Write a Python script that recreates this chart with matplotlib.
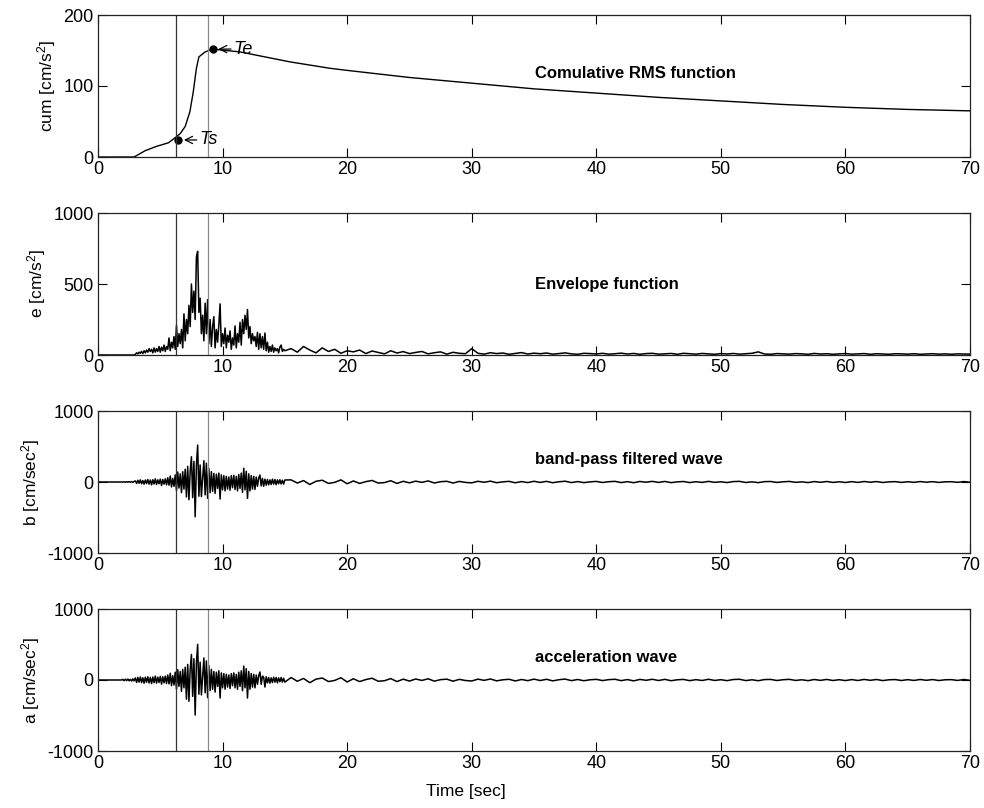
import numpy as np
import matplotlib
matplotlib.use('Agg')
import matplotlib.pyplot as plt

plt.rcParams['font.family'] = ['Liberation Sans', 'DejaVu Sans']
plt.rcParams['mathtext.fontset'] = 'custom'
plt.rcParams['mathtext.rm'] = 'Liberation Sans'
plt.rcParams['mathtext.it'] = 'Liberation Sans:italic'
plt.rcParams['axes.unicode_minus'] = False

# ---- data ----
t_start, t_end = 6.26, 8.86          # vertical marker lines
ts_point = (6.45, 24)
te_point = (9.2, 152)

cum_t = [0, 2.9, 3.8, 4.7, 5.65, 6.26, 6.6, 7.0, 7.38, 7.65, 7.9, 8.1, 8.6, 9.2,
         11.4, 15.4, 18.6, 20, 25, 30, 35, 40, 45, 50, 55, 60, 65, 70]
cum_v = [0, 0, 9, 15, 20, 28, 33, 43, 64, 92, 125, 141, 148, 152,
         148, 134, 125, 122, 112, 104, 96, 90, 84, 79, 74, 70, 67, 65]

# envelope, 0.1 s samples from 3.0 to 15.0 s
env_active = [
    5, 15, 8, 20, 12, 25, 10, 30, 15, 35,
    20, 45, 25, 40, 15, 50, 20, 45, 25, 60,
    20, 55, 30, 70, 25, 60, 40, 120, 30, 90,
    50, 130, 40, 210, 60, 150, 80, 180, 50, 290,
    100, 250, 150, 350, 200, 500, 300, 450, 250, 690,
    730, 300, 400, 150, 280, 100, 365, 150, 390, 80,
    250, 60, 200, 270, 50, 180, 90, 210, 360, 60,
    150, 80, 190, 50, 140, 90, 170, 40, 120, 70,
    205, 50, 150, 90, 230, 70, 250, 150, 280, 180,
    320, 120, 200, 80, 150, 100, 130, 60, 160, 40,
    150, 50, 130, 40, 155, 30, 90, 20, 60, 25,
    70, 20, 50, 30, 45, 15, 55, 70, 25, 40,
    30]
# envelope, 0.5 s samples from 15.5 to 70 s
env_tail = [
    45, 20, 60, 35, 15, 50, 25, 40, 12, 30,
    22, 35, 10, 28, 18, 8, 30, 14, 24, 10,
    18, 25, 8, 16, 22, 6, 19, 12, 9, 45,
    12, 6, 16, 10, 14, 5, 11, 17, 7, 13,
    9, 14, 6, 10, 15, 8, 5, 12, 10, 7,
    12, 6, 9, 13, 7, 11, 5, 10, 12, 6,
    8, 11, 5, 12, 9, 6, 11, 8, 5, 10,
    7, 11, 6, 9, 12, 22, 7, 5, 10, 8,
    6, 10, 8, 5, 11, 7, 9, 5, 8, 10,
    6, 8, 10, 5, 9, 7, 5, 9, 8, 6,
    9, 5, 7, 9, 6, 8, 5, 8, 7, 6]

# band-pass wave, 0.1 s samples from 2.0 to 15.0 s
bp_active = [
    0, 2, -3, 4, -3, 5, -4, 6, -5, 8,
    15, -20, 25, -18, 30, -25, 20, -30, 28, -22,
    35, -30, 28, -40, 32, -28, 45, -35, 30, -25,
    40, -50, 35, -30, 45, -40, 60, -45, 85, -70,
    50, -60, 100, -120, 140, -85, 115, -150, 145, -100,
    180, -210, 220, -250, 150, 355, -220, 290, -490, 240,
    520, -200, 240, -205, 60, 300, -180, 265, -230, 190,
    -150, 145, -130, 120, -160, 110, -90, 125, -240, 100,
    -110, 90, -125, 80, -100, 70, -115, 90, -80, 95,
    -105, 80, -125, 105, -90, 125, -145, 193, -110, 150,
    -230, 115, -125, 90, -100, 80, -105, 70, -60, 55,
    98, -55, 50, -60, 40, -45, 35, -40, 30, -35,
    40, -30, 35, -38, 30, -25, 32, -28, 25, -30,
    28]
bp_tail = [
    30, -15, 20, -35, 10, 25, -20, -5, 30, -25,
    15, -20, 5, 22, -15, -8, 18, -20, 10, -12,
    12, -5, 15, -14, 4, 10, -15, 8, -6, -12,
    10, -4, 12, -10, 2, 9, -11, 6, -8, 10,
    -6, 9, -10, 3, 11, -8, 6, -9, 2, 8,
    -7, 4, 9, -8, 5, -10, 7, -3, 9, -6,
    8, -9, 2, 7, -8, 4, -6, 9, -5, 3,
    -8, 6, 9, -7, 2, -9, 5, 7, -6, 3,
    8, -5, 2, -8, 6, -4, 7, -6, 3, -7,
    5, -6, 7, -3, 6, -7, 2, 5, -6, 4,
    -5, 6, -3, 5, -6, 2, 4, -5, 6, -4]

# acceleration wave, 0.1 s samples from 2.0 to 15.0 s
acc_active = [
    8, -10, 12, -9, 14, -12, 10, -15, 16, -12,
    30, -35, 38, -30, 42, -36, 32, -45, 40, -32,
    45, -42, 36, -50, 42, -38, 55, -45, 40, -35,
    50, -58, 45, -40, 55, -50, 70, -55, 95, -80,
    60, -70, 110, -130, 145, -90, 120, -160, 150, -110,
    180, -270, 220, -300, 150, 360, -230, 300, -493, 240,
    503, -200, 250, -210, 60, 310, -180, 268, -249, 200,
    -150, 150, -130, 120, -170, 110, -90, 130, -254, 100,
    -110, 90, -130, 80, -100, 70, -120, 90, -80, 100,
    -110, 80, -130, 110, -90, 130, -150, 197, -110, 160,
    -254, 120, -130, 90, -100, 80, -110, 70, -60, 60,
    113, -60, 55, 40, -99, 45, -40, 35, -45, 30,
    -35, 40, -30, 35, -40, 30, -25, 35, -30, 25,
    -30]
acc_tail = [
    35, -18, 22, -38, 12, 28, -22, -6, 32, -28,
    18, -22, 6, 25, -18, -10, 20, -22, 12, -15,
    14, -6, 17, -16, 5, 12, -17, 9, -7, -14,
    12, -5, 14, -12, 3, 10, -13, 7, -9, 12,
    -7, 10, -12, 4, 13, -9, 7, -10, 3, 9,
    -8, 5, 10, -9, 6, -12, 8, -4, 10, -7,
    9, -10, 3, 8, -9, 5, -7, 10, -6, 4,
    -9, 7, 10, -8, 3, -10, 6, 8, -7, 4,
    9, -6, 3, -9, 7, -5, 8, -7, 4, -8,
    6, -7, 8, -4, 7, -8, 3, 6, -7, 5,
    -6, 7, -4, 6, -7, 3, 5, -6, 7, -5]

t_env = np.concatenate([[0, 2.9], np.arange(len(env_active)) * 0.1 + 3.0,
                        np.arange(len(env_tail)) * 0.5 + 15.5])
env = np.concatenate([[0, 0], env_active, env_tail])
t_wave = np.concatenate([[0, 1.9], np.arange(len(bp_active)) * 0.1 + 2.0,
                         np.arange(len(bp_tail)) * 0.5 + 15.5])
bp = np.concatenate([[0, 0], bp_active, bp_tail])
acc = np.concatenate([[0, 0], acc_active, acc_tail])

labels = ['Comulative RMS function', 'Envelope function',
          'band-pass filtered wave', 'acceleration wave']
ylabels = ['cum [cm/s$^2$]', 'e [cm/s$^2$]', 'b [cm/sec$^2$]', 'a [cm/sec$^2$]']

# ---- figure ----
fig = plt.figure(figsize=(9.84, 8.08), dpi=100)
left, width, height = 98 / 984, 872 / 984, 142 / 808
bottoms = [157, 355, 553, 751]
axes = [fig.add_axes([left, 1 - b / 808, width, height]) for b in bottoms]

axes[0].plot(cum_t, cum_v, color='black', lw=1.0)
axes[0].plot(*ts_point, 'o', color='black', ms=5)
axes[0].plot(*te_point, 'o', color='black', ms=5)
for (px, py), name in [(ts_point, 'Ts'), (te_point, 'Te')]:
    axes[0].annotate(name, xy=(px + 0.45, py), xytext=(px + 1.7, py),
                     fontsize=13, style='italic', va='center', ha='left',
                     arrowprops=dict(arrowstyle='->', color='black', lw=0.9,
                                     shrinkA=0, shrinkB=0))
axes[0].set_ylim(0, 200)
axes[0].set_yticks([0, 100, 200])

axes[1].plot(t_env, env, color='black', lw=1.1)
axes[1].set_ylim(0, 1000)
axes[1].set_yticks([0, 500, 1000])

axes[2].plot(t_wave, bp, color='black', lw=1.1)
axes[3].plot(t_wave, acc, color='black', lw=1.1)
for ax in axes[2:]:
    ax.set_ylim(-1000, 1000)
    ax.set_yticks([-1000, 0, 1000])

label_y = [118, 493, 310, 310]
for ax, lab, yl, ly in zip(axes, labels, ylabels, label_y):
    ax.set_xlim(0, 70)
    ax.set_xticks(np.arange(0, 71, 10))
    ax.axvline(t_start, color='#333333', lw=0.9)
    ax.axvline(t_end, color='#888888', lw=0.9)
    ax.text(35.1, ly, lab, fontsize=12, fontweight='bold', va='center', ha='left')
    ax.set_ylabel(yl, fontsize=12.5, labelpad=4)
    ax.tick_params(direction='in', top=True, right=True, length=6.5,
                   labelsize=13, width=0.8, pad=3)
    for s in ax.spines.values():
        s.set_linewidth(0.9)
        s.set_color('#222222')

axes[3].set_xlabel('Time [sec]', fontsize=12.5)
axes[3].xaxis.set_label_coords(0.422, -0.23)

fig.savefig('out.png', dpi=100)
